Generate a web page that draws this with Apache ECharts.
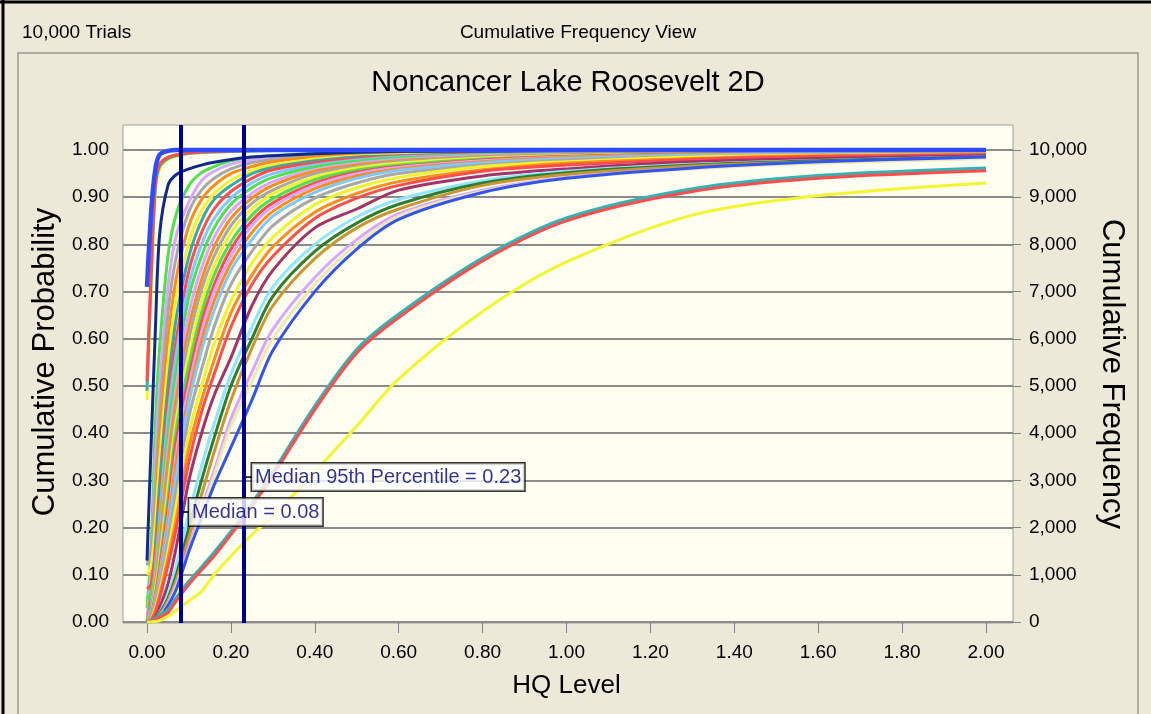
<!DOCTYPE html>
<html><head><meta charset="utf-8">
<script src="https://cdn.jsdelivr.net/npm/echarts@6/dist/echarts.min.js"></script>
<style>html,body{margin:0;padding:0;background:#ece9d8;}#chart{width:1151px;height:714px;}</style>
</head><body><div id="chart"></div>
<script>
// ---------- DATA ----------
const X = [0, 0.01, 0.02, 0.03, 0.05, 0.07, 0.1, 0.13, 0.16, 0.2, 0.25, 0.3, 0.4, 0.5, 0.6, 0.8, 1.0, 1.3, 1.6, 2.0];
const xTicks = [0, 0.2, 0.4, 0.6, 0.8, 1.0, 1.2, 1.4, 1.6, 1.8, 2.0];
const yTicks = [0, 0.1, 0.2, 0.3, 0.4, 0.5, 0.6, 0.7, 0.8, 0.9, 1.0];
const freqTicks = [0, 1000, 2000, 3000, 4000, 5000, 6000, 7000, 8000, 9000, 10000];

const c025 = [0.03, 0.16, 0.42, 0.58, 0.775, 0.865, 0.925, 0.952, 0.965, 0.977, 0.985, 0.988, 0.993, 0.995, 0.997, 0.998, 0.999, 1, 1, 1];
const c030 = [0, 0.12, 0.34, 0.5, 0.71, 0.82, 0.89, 0.935, 0.955, 0.97, 0.979, 0.985, 0.99, 0.993, 0.995, 0.997, 0.998, 0.999, 1, 1];
const c035 = [0.12, 0.16, 0.29, 0.44, 0.655, 0.775, 0.87, 0.915, 0.94, 0.96, 0.973, 0.98, 0.988, 0.991, 0.993, 0.996, 0.998, 0.999, 1, 1];
const c040 = [0, 0.075, 0.22, 0.39, 0.6, 0.73, 0.84, 0.895, 0.925, 0.95, 0.965, 0.975, 0.985, 0.989, 0.992, 0.995, 0.997, 0.998, 0.999, 1];
const c045 = [0.1, 0.12, 0.21, 0.34, 0.545, 0.69, 0.805, 0.872, 0.908, 0.936, 0.957, 0.968, 0.981, 0.987, 0.99, 0.994, 0.996, 0.998, 0.999, 1];
const c050 = [0, 0.05, 0.16, 0.29, 0.5, 0.645, 0.775, 0.85, 0.895, 0.925, 0.95, 0.963, 0.977, 0.985, 0.988, 0.993, 0.995, 0.997, 0.998, 1];
const c055 = [0.07, 0.08, 0.15, 0.25, 0.465, 0.6, 0.745, 0.825, 0.875, 0.912, 0.94, 0.958, 0.973, 0.982, 0.987, 0.991, 0.994, 0.997, 0.998, 0.999];
const c060 = [0, 0.035, 0.12, 0.22, 0.435, 0.57, 0.715, 0.8, 0.855, 0.898, 0.93, 0.95, 0.968, 0.979, 0.985, 0.99, 0.993, 0.996, 0.997, 0.998];
const c065 = [0.05, 0.06, 0.11, 0.2, 0.4, 0.535, 0.69, 0.775, 0.835, 0.885, 0.92, 0.942, 0.964, 0.976, 0.983, 0.989, 0.992, 0.995, 0.997, 0.998];
const c070 = [0, 0.025, 0.095, 0.175, 0.365, 0.5, 0.655, 0.75, 0.815, 0.87, 0.908, 0.933, 0.958, 0.972, 0.98, 0.988, 0.991, 0.994, 0.996, 0.998];
const c075 = [0, 0.02, 0.085, 0.16, 0.34, 0.475, 0.625, 0.725, 0.795, 0.855, 0.898, 0.925, 0.955, 0.968, 0.977, 0.986, 0.99, 0.994, 0.996, 0.997];
const c080 = [0.02, 0.03, 0.075, 0.145, 0.305, 0.45, 0.6, 0.705, 0.775, 0.84, 0.887, 0.915, 0.95, 0.965, 0.975, 0.985, 0.989, 0.993, 0.995, 0.997];
const c085 = [0, 0.015, 0.07, 0.13, 0.285, 0.43, 0.57, 0.68, 0.755, 0.825, 0.875, 0.907, 0.943, 0.962, 0.972, 0.983, 0.988, 0.992, 0.995, 0.997];
const c090 = [0, 0.015, 0.06, 0.12, 0.26, 0.41, 0.545, 0.655, 0.735, 0.805, 0.862, 0.897, 0.937, 0.957, 0.968, 0.981, 0.987, 0.992, 0.994, 0.996];
const c095 = [0, 0.012, 0.055, 0.11, 0.24, 0.385, 0.52, 0.635, 0.715, 0.79, 0.85, 0.888, 0.93, 0.953, 0.965, 0.979, 0.986, 0.991, 0.994, 0.996];
const c100 = [0, 0.01, 0.05, 0.1, 0.22, 0.36, 0.5, 0.615, 0.7, 0.775, 0.84, 0.88, 0.925, 0.95, 0.963, 0.977, 0.985, 0.99, 0.993, 0.995];
const c105 = [0, 0.009, 0.045, 0.093, 0.205, 0.34, 0.48, 0.595, 0.68, 0.76, 0.825, 0.87, 0.918, 0.945, 0.96, 0.975, 0.984, 0.99, 0.993, 0.995];
const c110 = [0, 0.008, 0.04, 0.085, 0.195, 0.315, 0.465, 0.575, 0.66, 0.745, 0.81, 0.86, 0.91, 0.94, 0.957, 0.973, 0.982, 0.989, 0.992, 0.995];
const c120 = [0, 0.007, 0.035, 0.075, 0.17, 0.28, 0.435, 0.535, 0.625, 0.715, 0.785, 0.84, 0.898, 0.93, 0.95, 0.968, 0.979, 0.986, 0.99, 0.993];
const c130 = [0, 0.006, 0.03, 0.065, 0.15, 0.25, 0.4, 0.5, 0.59, 0.68, 0.76, 0.815, 0.884, 0.92, 0.942, 0.965, 0.975, 0.985, 0.989, 0.992];
const c140 = [0, 0.005, 0.025, 0.057, 0.135, 0.22, 0.37, 0.47, 0.555, 0.655, 0.735, 0.795, 0.868, 0.908, 0.933, 0.958, 0.972, 0.982, 0.988, 0.991];
const c150 = [0, 0.004, 0.02, 0.05, 0.12, 0.2, 0.34, 0.445, 0.525, 0.625, 0.715, 0.775, 0.855, 0.898, 0.925, 0.955, 0.968, 0.98, 0.986, 0.99];

const maroon = [0, 0.003, 0.01, 0.03, 0.08, 0.16, 0.3, 0.4, 0.48, 0.56, 0.67, 0.745, 0.835, 0.875, 0.915, 0.945, 0.96, 0.975, 0.982, 0.988];
const cyan = [0, 0.002, 0.008, 0.02, 0.06, 0.12, 0.23, 0.33, 0.42, 0.525, 0.625, 0.71, 0.8, 0.858, 0.895, 0.935, 0.955, 0.97, 0.978, 0.985];
const dkgreen = [0, 0.002, 0.007, 0.018, 0.05, 0.1, 0.2, 0.3, 0.39, 0.5, 0.6, 0.69, 0.785, 0.845, 0.885, 0.93, 0.952, 0.968, 0.977, 0.985];
const tan = [0, 0.001, 0.006, 0.015, 0.045, 0.09, 0.18, 0.27, 0.36, 0.47, 0.58, 0.67, 0.77, 0.835, 0.875, 0.925, 0.948, 0.966, 0.975, 0.984];
const lavender = [0, 0.001, 0.005, 0.012, 0.04, 0.08, 0.16, 0.24, 0.32, 0.43, 0.53, 0.62, 0.73, 0.81, 0.865, 0.915, 0.942, 0.962, 0.973, 0.983];
const paleYellow = [0, 0, 0.004, 0.01, 0.035, 0.075, 0.15, 0.23, 0.31, 0.415, 0.51, 0.6, 0.715, 0.8, 0.86, 0.912, 0.94, 0.96, 0.972, 0.982];
const blueLow = [0, 0, 0.004, 0.01, 0.035, 0.07, 0.15, 0.22, 0.29, 0.37, 0.47, 0.575, 0.7, 0.79, 0.853, 0.91, 0.94, 0.962, 0.975, 0.985];

const bigTeal = [0, 0.003, 0.007, 0.013, 0.025, 0.05, 0.085, 0.115, 0.146, 0.19, 0.25, 0.316, 0.456, 0.576, 0.651, 0.77, 0.855, 0.917, 0.945, 0.961];
const bigRed = [0, 0.002, 0.005, 0.01, 0.02, 0.045, 0.08, 0.11, 0.14, 0.185, 0.245, 0.31, 0.45, 0.57, 0.645, 0.765, 0.85, 0.912, 0.94, 0.956];
const bigYellow = [0, 0, 0.001, 0.003, 0.012, 0.025, 0.045, 0.065, 0.1, 0.14, 0.185, 0.225, 0.318, 0.415, 0.515, 0.658, 0.763, 0.862, 0.903, 0.93];

const navy = [0.13, 0.38, 0.62, 0.82, 0.925, 0.948, 0.96, 0.968, 0.974, 0.98, 0.985, 0.988, 0.992, 0.995, 0.997, 0.998, 0.999, 1, 1, 1];
const yellowSteep = [0.47, 0.71, 0.91, 0.96, 0.98, 0.986, 0.992, 0.994, 0.996, 0.997, 0.998, 0.999, 1, 1, 1, 1, 1, 1, 1, 1];
const tealSteep = [0.49, 0.73, 0.92, 0.965, 0.982, 0.988, 0.993, 0.995, 0.996, 0.997, 0.998, 0.999, 1, 1, 1, 1, 1, 1, 1, 1];
const redSteep = [0.51, 0.75, 0.93, 0.97, 0.985, 0.99, 0.994, 0.996, 0.997, 0.998, 0.999, 1, 1, 1, 1, 1, 1, 1, 1, 1];
const blueSteep = [0.71, 0.87, 0.96, 0.99, 0.998, 1, 1, 1, 1, 1, 1, 1, 1, 1, 1, 1, 1, 1, 1, 1];

const medianValues = [0.08, 0.23];
const annotTexts = ['Median = 0.08', 'Median 95th Percentile = 0.23'];
const annotY = [0.233, 0.307];

// ---------- STYLE TABLE ----------
const seriesList = [
  [c025, '#4ee04e'], [c030, '#d9a6ff'], [c035, '#a8a8a8'], [c040, '#ff8c1a'], [c045, '#f2f22a'],
  [c050, '#3aa8a8'], [c055, '#ff4d4d'], [c060, '#7ec8ff'], [c065, '#4ee04e'], [c070, '#d9a6ff'],
  [c075, '#ff8c1a'], [c080, '#a8a8a8'], [c085, '#f2f22a'], [c090, '#4ee04e'], [c095, '#ff4d4d'],
  [c100, '#d9a6ff'], [c105, '#ff8c1a'], [c110, '#7ec8ff'], [c120, '#a8a8a8'], [c130, '#f2f22a'],
  [c140, '#ff8c1a'], [c150, '#ff4d4d'],
  [maroon, '#a3336b'], [cyan, '#8ee6ff'], [dkgreen, '#2e7d2e'], [tan, '#c89632'],
  [lavender, '#d9a6ff'], [paleYellow, '#efe9b0'], [blueLow, '#3355ee'],
  [bigTeal, '#33b3b3'], [bigRed, '#ff4d4d'], [bigYellow, '#f4f430'],
  [navy, '#102a8c'], [yellowSteep, '#f4f430'], [tealSteep, '#33b3b3'], [redSteep, '#ff4d4d'], [blueSteep, '#2d4bff']
];
const FONT = '"Liberation Sans", Arial, sans-serif';

const series = seriesList.map(([arr, color]) => ({
  type: 'line',
  xAxisIndex: 1, yAxisIndex: 1,
  data: X.map((x, k) => [x, arr[k]]),
  showSymbol: false, symbol: 'none',
  smooth: 0.3,
  clip: false, silent: true,
  lineStyle: { color: color, width: arr === blueSteep ? 4.5 : (arr === bigTeal ? 4 : 3) },
  z: 2
}));

series.push({
  type: 'line', xAxisIndex: 0, yAxisIndex: 0, data: [], silent: true, z: 8,
  markLine: {
    silent: true, symbol: ['none', 'none'], animation: false,
    label: { show: false },
    lineStyle: { color: '#00008c', width: 4, type: 'solid' },
    data: medianValues.map(v => ({ xAxis: v }))
  }
});

series.push({
  type: 'scatter', xAxisIndex: 1, yAxisIndex: 1, symbolSize: 1, silent: true, z: 10,
  itemStyle: { color: 'rgba(0,0,0,0)' },
  data: medianValues.map((v, i) => ({ value: [v, annotY[i]], label: { formatter: '{t|}{b|' + annotTexts[i] + '}' } })),
  label: {
    show: true, position: 'right', distance: 2,
    rich: {
      t: { width: 6, height: 2, backgroundColor: '#000', verticalAlign: 'middle' },
      b: { backgroundColor: '#fff', borderColor: '#000', borderWidth: 1.5, padding: [4, 3, 3, 3],
           color: '#000080', fontSize: 20, fontFamily: FONT, verticalAlign: 'middle' }
    }
  }
});

const axisTextStyle = { color: '#000', fontSize: 19, fontFamily: FONT };
const chart = echarts.init(document.getElementById('chart'), null, { renderer: 'canvas' });
chart.setOption({
  backgroundColor: '#ece9d8',
  animation: false,
  grid: [
    { left: 123, top: 125, width: 890, height: 498, show: true, backgroundColor: '#fefef0', borderColor: '#a0a0a0', borderWidth: 1 },
    { left: 147, top: 150, width: 839, height: 472 },
    { left: 123, top: 150, width: 890, height: 472 }
  ],
  xAxis: [
    { gridIndex: 0, type: 'value', min: -0.0572, max: 2.0644, show: false },
    { gridIndex: 1, type: 'value', min: 0, max: 2, interval: 0.2,
      axisLine: { show: false },
      axisTick: { show: true, length: 11, lineStyle: { color: '#808080', width: 1 } },
      axisLabel: Object.assign({ margin: 21, formatter: v => v.toFixed(2) }, axisTextStyle),
      splitLine: { show: false },
      name: 'HQ Level', nameLocation: 'middle', nameGap: 51,
      nameTextStyle: { color: '#000', fontSize: 26, fontFamily: FONT } },
    { gridIndex: 2, type: 'value', min: 0, max: 1, show: false }
  ],
  yAxis: [
    { gridIndex: 0, type: 'value', min: 0, max: 1, show: false },
    { gridIndex: 1, type: 'value', min: 0, max: 1, interval: 0.1, position: 'left', offset: 24,
      axisLine: { show: false },
      axisTick: { show: true, length: 5, lineStyle: { color: '#808080' } },
      axisLabel: Object.assign({ margin: 14, formatter: v => v.toFixed(2) }, axisTextStyle),
      splitLine: { show: false } },
    { gridIndex: 1, type: 'value', min: 0, max: 10000, interval: 1000, position: 'right', offset: 27,
      axisLine: { show: false },
      axisTick: { show: true, length: 8, lineStyle: { color: '#808080' } },
      axisLabel: Object.assign({ margin: 16, formatter: v => v.toLocaleString('en-US') }, axisTextStyle),
      splitLine: { show: false } },
    { gridIndex: 2, type: 'value', min: 0, max: 1, interval: 0.1,
      axisLine: { show: false }, axisTick: { show: false }, axisLabel: { show: false },
      splitLine: { show: true, lineStyle: { color: '#8c8c8c', width: 2 } } }
  ],
  graphic: [
    { type: 'line', shape: { x1: 0, y1: 2, x2: 1151, y2: 2 }, style: { stroke: '#000', lineWidth: 3 }, silent: true },
    { type: 'line', shape: { x1: 3, y1: 0, x2: 3, y2: 714 }, style: { stroke: '#000', lineWidth: 3 }, silent: true },
    { type: 'rect', shape: { x: 18, y: 53, width: 1120, height: 700 }, style: { fill: 'none', stroke: '#9a9a90', lineWidth: 1.5 }, silent: true },
    { type: 'text', x: 22, y: 33, style: { text: '10,000 Trials', font: '19px ' + FONT, fill: '#000', textAlign: 'left', textVerticalAlign: 'middle' }, silent: true },
    { type: 'text', x: 578, y: 33, style: { text: 'Cumulative Frequency View', font: '19px ' + FONT, fill: '#000', textAlign: 'center', textVerticalAlign: 'middle' }, silent: true },
    { type: 'text', x: 568, y: 83, style: { text: 'Noncancer Lake Roosevelt 2D', font: '29px ' + FONT, fill: '#000', textAlign: 'center', textVerticalAlign: 'middle' }, silent: true },
    { type: 'text', x: 45, y: 362, rotation: Math.PI / 2, style: { text: 'Cumulative Probability', font: '31px ' + FONT, fill: '#000', textAlign: 'center', textVerticalAlign: 'middle' }, silent: true },
    { type: 'text', x: 1112, y: 374, rotation: -Math.PI / 2, style: { text: 'Cumulative Frequency', font: '31px ' + FONT, fill: '#000', textAlign: 'center', textVerticalAlign: 'middle' }, silent: true }
  ],
  series: series
});
</script></body></html>
